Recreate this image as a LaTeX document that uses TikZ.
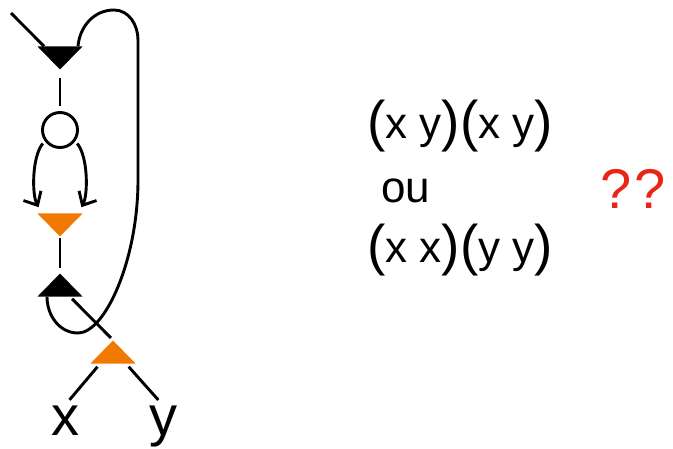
\documentclass[tikz,border=0pt]{standalone}
\usepackage{fontspec}
\setmainfont{Liberation Sans}
\usepackage{graphicx}
\usepackage{xcolor}
\definecolor{triorange}{RGB}{242,121,0}
\definecolor{askred}{RGB}{232,38,22}
\usepackage{tikz}
\usetikzlibrary{shapes.geometric, arrows.meta, positioning, calc}

% tall brackets
\newcommand{\lpar}{\raisebox{-2.5pt}{\scalebox{1.25}[1.27]{(}}}
\newcommand{\rpar}{\raisebox{-2.5pt}{\scalebox{1.25}[1.27]{)}}}

\begin{document}
\begin{tikzpicture}[x=1pt, y=1pt,
  wire/.style={line width=2.9pt},
  tip/.style={-{Straight Barb[length=11pt,width=20pt]}},
  tri/.style={isosceles triangle, isosceles triangle stretches, inner sep=0pt,
    minimum width=45pt, minimum height=23pt},
  tridown/.style={tri, shape border rotate=-90},
  triup/.style={tri, shape border rotate=90},
  lbl/.style={inner sep=0pt, anchor=base, font=\fontsize{56}{60}\selectfont},
  txt/.style={inner sep=0pt, anchor=base west, font=\fontsize{44}{50}\selectfont}]
\useasboundingbox (0,0) rectangle (673,-448);

% the graph
\node[tridown, fill=black, anchor=apex] (dup) at (60,-70) {};
\node[draw, circle, line width=2.9pt, minimum size=35pt, inner sep=0pt] (circ) at (60,-130) {};
\node[tridown, fill=triorange, anchor=apex] (dsum) at (60,-237) {};
\node[triup, fill=black, anchor=apex] (ujoin) at (60,-273) {};
\node[triup, fill=triorange, anchor=apex] (usum) at (113,-340) {};
\node[lbl] (lx) at (65,-435) {x};
\node[lbl] (ly) at (163,-435) {y};

\coordinate (in) at (11,-13);
\coordinate (looptop) at (114,-10);
\coordinate (loopright) at (138,-40);
\coordinate (loopmid) at (138,-180);
\coordinate (loopbot) at (78,-333);

\draw[wire] (in) -- ([xshift=-16pt]dup.north);
\draw[wire, shorten <=8pt, shorten >=5pt] (dup.apex) -- (circ.north);
\draw[wire, tip, shorten <=3pt, shorten >=7pt]
  (circ.216) .. controls +(-13,-16) and +(-10,18) .. ([xshift=-18pt]dsum.north);
\draw[wire, tip, shorten <=3pt, shorten >=7pt]
  (circ.324) .. controls +(13,-16) and +(10,18) .. ([xshift=18pt]dsum.north);
\draw[wire, shorten <=1pt, shorten >=5pt] (dsum.apex) -- (ujoin.apex);

% feedback loop
\draw[wire] ([xshift=18pt]dup.north) to[out=85,in=180] (looptop)
  to[out=0,in=90] (loopright) -- (loopmid)
  .. controls (138,-260) and (105,-333) .. (loopbot)
  to[out=180,in=270] ([xshift=-13pt]ujoin.south);

\draw[wire, shorten <=3pt, shorten >=3pt] ([xshift=10pt]ujoin.south) -- (usum.apex);
\draw[wire, shorten <=4pt, shorten >=7pt] ([xshift=-13pt]usum.south) -- (lx.north);
\draw[wire, shorten <=4pt, shorten >=7pt] ([xshift=13pt]usum.south) -- (ly.north);

% the question
\node[txt] (pair) at (367,-138) {\lpar x y\rpar\lpar x y\rpar};
\node[txt] (ou) at (381,-202) {ou};
\node[txt] (twin) at (367,-262) {\lpar x x\rpar\lpar y y\rpar};
\node[txt, text=askred, font=\fontsize{56}{60}\selectfont] (ask) at (600,-208) {?\kern3pt?};
\end{tikzpicture}
\end{document}
